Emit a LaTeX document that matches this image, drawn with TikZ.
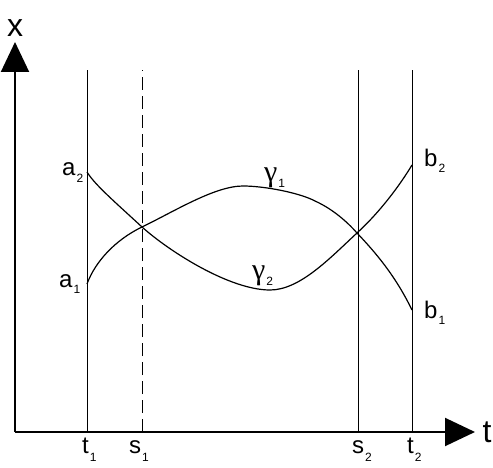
\documentclass[tikz,border=0pt]{standalone}
\usepackage{fontspec}
\setmainfont{Liberation Sans}
\newfontfamily\grk{Liberation Serif}
\usetikzlibrary{arrows.meta}
\newcommand\sbx[2]{\kern1pt\raisebox{#1}{\fontsize{12}{12}\selectfont #2}}
\begin{document}
\begin{tikzpicture}[x=1pt,y=-1pt,
  axis/.style={line width=2pt,-{Triangle[length=30pt,width=28pt]}},
  vline/.style={line width=1pt},
  curve/.style={line width=1.2pt},
  lbl/.style={anchor=base west,inner sep=0pt,font=\fontsize{24}{24}\selectfont},
  glbl/.style={anchor=base west,inner sep=0pt,font=\fontsize{30}{30}\selectfont\grk},
  big/.style={inner sep=0pt,font=\fontsize{32}{32}\selectfont}]
\useasboundingbox (0,0) rectangle (493,468);
% axes
\coordinate (O) at (15,432);
\coordinate (Y) at (15,42);
\coordinate (X) at (475,432);
\draw[axis] (O) -- (Y);
\draw[axis] (O) -- (X);
\node[big] (xl) at (15,28) {x};
\node[big] (tl) at (487,432) {t};
% vertical lines
\coordinate (t1b) at (87,432); \coordinate (t1t) at (87,70);
\coordinate (s1b) at (142,432); \coordinate (s1t) at (142,70);
\coordinate (s2b) at (358,432); \coordinate (s2t) at (358,70);
\coordinate (t2b) at (412,432); \coordinate (t2t) at (412,70);
\draw[vline] (t1b) -- (t1t);
\draw[vline,dash pattern=on 13pt off 6pt] (s1b) -- (s1t);
\draw[vline] (s2b) -- (s2t);
\draw[vline] (t2b) -- (t2t);
% curve points
\coordinate (a1) at (87,284);
\coordinate (a2) at (87,172);
\coordinate (b1) at (412,310);
\coordinate (b2) at (412,165);
\coordinate (c1) at (142,227);
\coordinate (c2) at (357,233);
\coordinate (p1) at (243,186);
\coordinate (q1) at (315,201);
\coordinate (m2) at (270,290);
\draw[curve] (a1) .. controls (95,262) and (115,240) .. (c1)
  .. controls (175,211) and (215,186) .. (p1)
  .. controls (265,186) and (300,193) .. (q1)
  .. controls (335,210) and (350,225) .. (c2)
  .. controls (375,252) and (395,275) .. (b1);
\draw[curve] (a2) .. controls (95,185) and (115,202) .. (c1)
  .. controls (170,252) and (230,290) .. (m2)
  .. controls (300,290) and (330,258) .. (c2)
  .. controls (380,212) and (400,185) .. (b2);
% labels
\node[lbl] (la2) at (62,176) {a\sbx{-6pt}{2}};
\node[lbl] (la1) at (59,287) {a\sbx{-6pt}{1}};
\node[lbl] (lb2) at (424,167) {b\sbx{-6pt}{2}};
\node[lbl] (lb1) at (424,318) {b\sbx{-6pt}{1}};
\node[glbl] (lg1) at (264,182) {γ\sbx{-6pt}{\rmfamily 1}};
\node[glbl] (lg2) at (252,279) {γ\sbx{-6pt}{\rmfamily 2}};
\node[lbl] (lt1) at (82,453) {t\sbx{-8pt}{1}};
\node[lbl] (ls1) at (129,453) {s\sbx{-8pt}{1}};
\node[lbl] (ls2) at (352,453) {s\sbx{-8pt}{2}};
\node[lbl] (lt2) at (407,453) {t\sbx{-8pt}{2}};
\end{tikzpicture}
\end{document}
